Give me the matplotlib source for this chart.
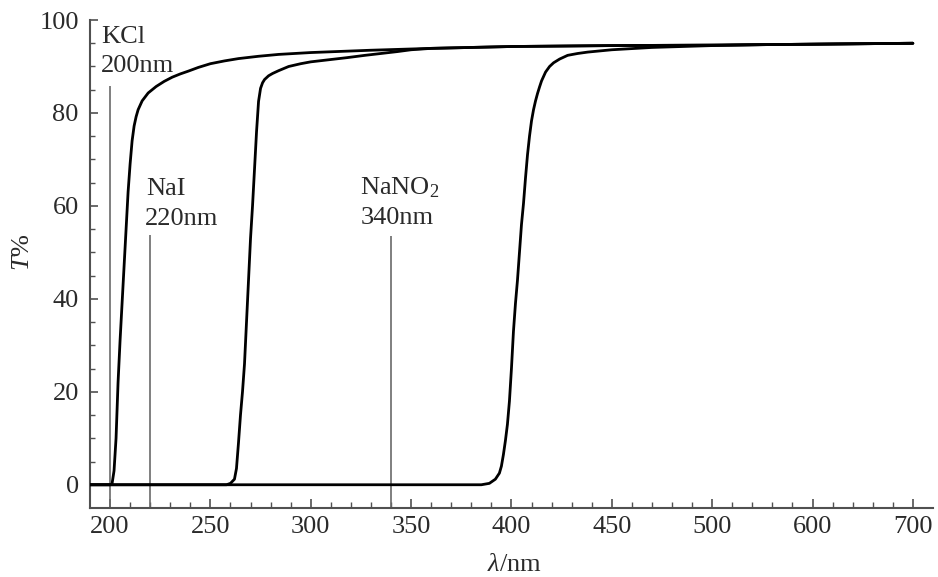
import numpy as np
import matplotlib
matplotlib.use("Agg")
import matplotlib.pyplot as plt
from matplotlib.ticker import FixedLocator, NullFormatter

plt.rcParams['font.family'] = ['Liberation Serif', 'DejaVu Serif']
plt.rcParams['mathtext.fontset'] = 'custom'
plt.rcParams['mathtext.rm'] = 'Liberation Serif'
plt.rcParams['mathtext.it'] = 'Liberation Serif:italic'

# Transmission spectra of the cut-off filter solutions (wavelength nm, T %)
kcl_nm = [190, 200, 201, 202, 203, 204, 205, 206, 207, 208, 209, 210, 211, 212,
          213, 214, 216, 219, 223, 227, 231, 235, 239, 244, 250, 257, 264, 274,
          284, 300, 330, 360, 400, 450, 500, 600, 700]
kcl_t = [0, 0, 0.2, 3, 10, 22, 31, 39, 47, 55, 63, 69, 74, 77.2,
         79.2, 80.7, 82.6, 84.3, 85.7, 86.8, 87.7, 88.4, 89.0, 89.8, 90.6, 91.2, 91.7, 92.2,
         92.6, 93.0, 93.5, 93.9, 94.3, 94.5, 94.6, 94.8, 95.0]

nai_nm = [190, 258, 260, 262, 263, 264, 265, 266, 267, 268, 269, 270, 271, 272,
          273, 274, 275, 276, 277, 279, 281, 284, 289, 295, 300, 310, 318, 327,
          335, 343, 350, 360, 400, 450, 500, 600, 700]
nai_t = [0, 0, 0.3, 1.2, 3.5, 9, 15, 20, 26, 35, 44, 53, 60, 68,
         76, 82.5, 85.3, 86.5, 87.2, 88.0, 88.5, 89.1, 90.0, 90.6, 91.0, 91.5, 91.9, 92.4,
         92.8, 93.2, 93.6, 93.9, 94.3, 94.5, 94.6, 94.8, 95.0]

nano2_nm = [190, 385, 389, 392, 394, 395, 396, 397, 398, 399, 400, 401, 402, 403,
            404, 405, 406, 407, 408, 409, 410, 411, 412, 413, 414, 415, 417, 419,
            421, 424, 428, 433, 438, 450, 470, 500, 550, 600, 700]
nano2_t = [0, 0, 0.3, 1.2, 2.5, 4, 6.5, 9.5, 13, 18, 25, 33, 39, 44,
           50, 56, 60.5, 66, 71, 75, 78.3, 80.7, 82.6, 84.2, 85.6, 86.9, 88.8, 90.0,
           90.8, 91.6, 92.4, 92.8, 93.1, 93.6, 94.1, 94.5, 94.7, 94.8, 95.0]

# Cut-off markers: wavelength, marker top (T %), label lines
cut_nm = [200, 220, 340]
cut_top = [85.8, 53.8, 53.6]
cut_names = ['KCl', 'NaI', 'NaNO$_2$']
cut_labels = ['200nm', '220nm', '340nm']
name_pos = [(195.5, 95.0), (217.8, 62.4), (324.7, 62.4)]
value_pos = [(195.5, 88.8), (217.4, 55.9), (324.7, 56.1)]

x_major = [200, 250, 300, 350, 400, 450, 500, 600, 700]
x_minor = [v for v in range(210, 500, 10) if v not in x_major] + \
          [v for v in range(520, 720, 20) if v not in x_major]
y_major = [0, 20, 40, 60, 80, 100]
y_minor = [v for v in range(5, 100, 5) if v not in y_major]

BREAK = 500.0


def fwd(x):
    x = np.asarray(x, dtype=float)
    return np.where(x <= BREAK, x, BREAK + (x - BREAK) / 2.0)


def inv(y):
    y = np.asarray(y, dtype=float)
    return np.where(y <= BREAK, y, BREAK + (y - BREAK) * 2.0)


fig = plt.figure(figsize=(9.38, 5.77), dpi=100)
ax = fig.add_axes([0.0959, 0.1196, 0.8987, 0.8457])
ax.set_xscale('function', functions=(fwd, inv))
ax.set_xlim(190, 720)
ax.set_ylim(-5, 100)

axis_col = '#505050'
text_col = '#2a2a2a'

for nm, top in zip(cut_nm, cut_top):
    ax.vlines(nm, -5, top, color='#6a6a6a', lw=1.2, zorder=2)

for xs, ys in [(kcl_nm, kcl_t), (nai_nm, nai_t), (nano2_nm, nano2_t)]:
    ax.plot(xs, ys, color='black', lw=2.0, solid_joinstyle='round',
            solid_capstyle='round', zorder=3)

for name, lab, (nx, ny), (vx, vy) in zip(cut_names, cut_labels, name_pos, value_pos):
    ax.text(nx, ny, name, fontsize=19, color=text_col, ha='left', va='baseline')
    ax.text(vx, vy, lab, fontsize=19, color=text_col, ha='left', va='baseline')

for s in ['top', 'right']:
    ax.spines[s].set_visible(False)
for s in ['left', 'bottom']:
    ax.spines[s].set_color(axis_col)
    ax.spines[s].set_linewidth(1.5)

ax.xaxis.set_major_locator(FixedLocator(x_major))
ax.xaxis.set_minor_locator(FixedLocator(x_minor))
ax.xaxis.set_minor_formatter(NullFormatter())
ax.set_xticklabels([str(v) for v in x_major])
ax.yaxis.set_major_locator(FixedLocator(y_major))
ax.yaxis.set_minor_locator(FixedLocator(y_minor))
ax.set_yticklabels([str(v) for v in y_major])

ax.tick_params(axis='x', which='major', direction='in', length=6.5, width=1.2,
               color=axis_col, labelsize=19, labelcolor=text_col, pad=6)
ax.tick_params(axis='x', which='minor', direction='in', length=4.3, width=1.0,
               color=axis_col)
ax.tick_params(axis='y', which='major', direction='in', length=6, width=1.2,
               color=axis_col, labelsize=19, labelcolor=text_col, pad=8)
ax.tick_params(axis='y', which='minor', direction='in', length=3.6, width=1.0,
               color=axis_col)

ax.set_xlabel(r'$\lambda$/nm', fontsize=19, color=text_col)
ax.xaxis.set_label_coords(0.503, -0.095)
ax.set_ylabel(r'$T$%', fontsize=19, color=text_col)
ax.yaxis.set_label_coords(-0.066, 0.525)

fig.savefig('out.png', dpi=100)
